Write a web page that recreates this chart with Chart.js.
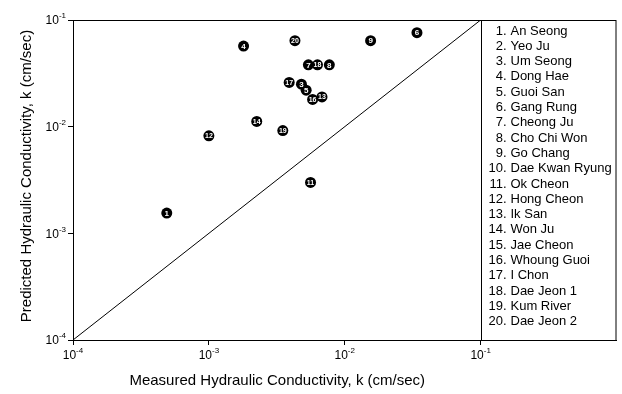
<!DOCTYPE html>
<html>
<head>
<meta charset="utf-8">
<script src="https://cdn.jsdelivr.net/npm/chart.js@4"></script>
<style>
  body { margin: 0; background: #fff; }
  #wrap { width: 622px; height: 394px; position: relative; }
</style>
</head>
<body>
<div id="wrap"><canvas id="kChart"></canvas></div>
<script>
// site names listed in the legend box
const siteNames = ['An Seong', 'Yeo Ju', 'Um Seong', 'Dong Hae', 'Guoi San', 'Gang Rung',
    'Cheong Ju', 'Cho Chi Won', 'Go Chang', 'Dae Kwan Ryung', 'Ok Cheon', 'Hong Cheon',
    'Ik San', 'Won Ju', 'Jae Cheon', 'Whoung Guoi', 'I Chon', 'Dae Jeon 1', 'Kum River', 'Dae Jeon 2'];

// plotted sites (number shown in the marker) with measured / predicted k (cm/sec)
const siteIds    = [1, 3, 4, 5, 6, 7, 8, 9, 11, 12, 13, 14, 16, 17, 18, 19, 20];
const measuredK  = [4.9e-4, 4.8e-3, 1.8e-3, 5.2e-3, 3.4e-2, 5.4e-3, 7.7e-3, 1.55e-2, 5.6e-3,
                    1.0e-3, 6.8e-3, 2.25e-3, 5.8e-3, 3.9e-3, 6.3e-3, 3.5e-3, 4.3e-3];
const predictedK = [1.55e-3, 2.5e-2, 5.7e-2, 2.2e-2, 7.6e-2, 3.8e-2, 3.8e-2, 6.4e-2, 3.0e-3,
                    8.2e-3, 1.9e-2, 1.12e-2, 1.8e-2, 2.6e-2, 3.8e-2, 9.2e-3, 6.4e-2];

// 1:1 line end points
const lineK = [1e-4, 1e-1];

const xTicks = [1e-4, 1e-3, 1e-2, 1e-1];
const yTicks = [1e-4, 1e-3, 1e-2, 1e-1];
const tickExp = v => String(Math.round(Math.log10(v)));

const FONT = '"Liberation Sans", Arial, sans-serif';

// draws frame, legend box, tick labels, axis titles and marker numbers
const decorPlugin = {
    id: 'decor',
    afterDatasetsDraw(chart) {
        const ctx = chart.ctx;
        const area = chart.chartArea;
        const xs = chart.scales.x, ys = chart.scales.y;
        ctx.save();

        // numbers in the markers
        const meta = chart.getDatasetMeta(0);
        ctx.fillStyle = '#fff';
        ctx.textAlign = 'center';
        ctx.textBaseline = 'middle';
        meta.data.forEach((pt, i) => {
            const s = String(siteIds[i]);
            ctx.font = 'bold ' + (s.length > 1 ? 7 : 8) + 'px ' + FONT;
            ctx.fillText(s, pt.x, pt.y + 0.5);
        });

        // frame
        ctx.strokeStyle = '#000';
        ctx.lineWidth = 1;
        ctx.strokeRect(area.left + 0.5, area.top + 0.5, area.right - area.left - 1, area.bottom - area.top);
        const lx = Math.round(xs.getPixelForValue(1e-1)) + 0.5;
        ctx.beginPath();
        ctx.moveTo(lx, area.top);
        ctx.lineTo(lx, area.bottom);
        ctx.stroke();

        // legend
        ctx.fillStyle = '#000';
        ctx.font = '13px ' + FONT;
        ctx.textBaseline = 'middle';
        siteNames.forEach((name, i) => {
            const y = area.top + 11 + i * 15.3;
            ctx.textAlign = 'right';
            ctx.fillText((i + 1) + '.', lx + 25, y);
            ctx.textAlign = 'left';
            ctx.fillText(name, lx + 29, y);
        });

        // tick labels 10^n
        const drawPow = (v, x, y, align) => {
            ctx.font = '12px ' + FONT;
            const base = ctx.measureText('10').width;
            ctx.font = '8px ' + FONT;
            const sup = ctx.measureText(tickExp(v)).width;
            const total = base + sup;
            let x0 = align === 'right' ? x - total : x - total / 2;
            ctx.textAlign = 'left';
            ctx.textBaseline = 'middle';
            ctx.font = '12px ' + FONT;
            ctx.fillText('10', x0, y);
            ctx.font = '8px ' + FONT;
            ctx.fillText(tickExp(v), x0 + base, y - 5);
        };
        yTicks.forEach(v => drawPow(v, area.left - 7, ys.getPixelForValue(v) + 1, 'right'));
        xTicks.forEach(v => drawPow(v, xs.getPixelForValue(v), area.bottom + 16, 'center'));

        // axis titles
        ctx.font = '15px ' + FONT;
        ctx.textAlign = 'center';
        ctx.textBaseline = 'middle';
        ctx.fillText('Measured Hydraulic Conductivity, k (cm/sec)', (area.left + lx) / 2, 381);
        ctx.translate(27, (area.top + area.bottom) / 2 - 4);
        ctx.rotate(-Math.PI / 2);
        ctx.fillText('Predicted Hydraulic Conductivity, k (cm/sec)', 0, 0);
        ctx.restore();
    }
};

new Chart(document.getElementById('kChart').getContext('2d'), {
    type: 'scatter',
    data: {
        datasets: [
            {
                label: 'sites',
                data: siteIds.map((id, i) => ({ x: measuredK[i], y: predictedK[i] })),
                backgroundColor: '#000',
                borderColor: '#000',
                borderWidth: 0,
                pointRadius: 5.5
            },
            {
                type: 'line',
                label: '1:1',
                data: lineK.map(v => ({ x: v, y: v })),
                borderColor: '#000',
                borderWidth: 1,
                pointRadius: 0,
                fill: false
            }
        ]
    },
    options: {
        responsive: true,
        maintainAspectRatio: false,
        animation: false,
        layout: { padding: { left: 0, top: 20, right: 1, bottom: 0 } },
        scales: {
            x: {
                type: 'logarithmic',
                min: 1e-4,
                max: 1,
                afterBuildTicks: s => { s.ticks = xTicks.map(v => ({ value: v })); },
                afterFit: s => { s.height = 54; },
                ticks: { display: false },
                grid: { drawOnChartArea: false, tickLength: 5, color: '#000' },
                border: { color: '#000' }
            },
            y: {
                type: 'logarithmic',
                min: 1e-4,
                max: 1e-1,
                afterBuildTicks: s => { s.ticks = yTicks.map(v => ({ value: v })); },
                afterFit: s => { s.width = 73; },
                ticks: { display: false },
                grid: { drawOnChartArea: false, tickLength: 5, color: '#000' },
                border: { color: '#000' }
            }
        },
        plugins: {
            legend: { display: false },
            tooltip: { enabled: false }
        }
    },
    plugins: [decorPlugin]
});
</script>
</body>
</html>
